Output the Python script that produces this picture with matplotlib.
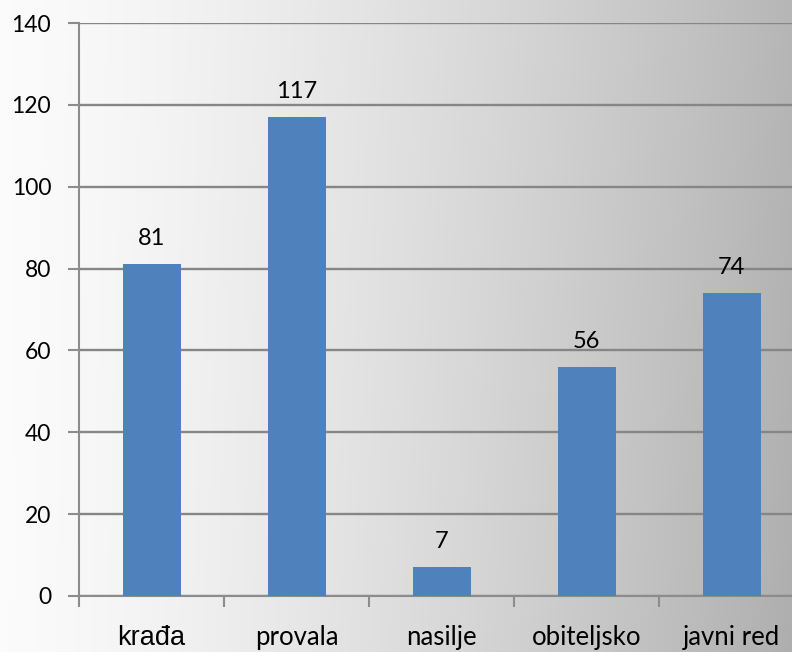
import numpy as np
import matplotlib
matplotlib.use("Agg")
import matplotlib.pyplot as plt

categories = ["krađa", "provala", "nasilje", "obiteljsko", "javni red"]
values = [81, 117, 7, 56, 74]
yticks = [0, 20, 40, 60, 80, 100, 120, 140]

W, H = 792, 652
fig = plt.figure(figsize=(W / 100, H / 100), dpi=100)

# background gradient
bg = fig.add_axes([0, 0, 1, 1], zorder=-10)
xs = np.linspace(0, 1, 400)
ys = np.linspace(0, 1, 300)
X, Y = np.meshgrid(xs, ys)
val = 0.985 - 0.27 * X ** 1.4 - 0.03 * Y * X
img = np.dstack([val, val, val])
bg.imshow(img, aspect="auto", extent=[0, 1, 0, 1], origin="upper")
bg.set_axis_off()

left = 79 / W
right = 804 / W
bottom = 1 - 596 / H
top = 1 - 23 / H
ax = fig.add_axes([left, bottom, right - left, top - bottom])
ax.patch.set_alpha(0)

x = np.arange(len(categories))
ax.bar(x, values, width=0.4, color="#4F81BD", zorder=3)
ax.set_xlim(-0.5, len(categories) - 0.5)
ax.set_ylim(0, 140)
ax.set_yticks(yticks)
ax.set_yticklabels([str(t) for t in yticks], fontsize=16.5, family="Lato")
ax.yaxis.grid(True, color="#868686", linewidth=1.7, zorder=0)
ax.set_axisbelow(True)

for s in ["top", "right"]:
    ax.spines[s].set_visible(False)
for s in ["left", "bottom"]:
    ax.spines[s].set_color("#8c8c8c")
    ax.spines[s].set_linewidth(1.5)
ax.tick_params(axis="y", length=8, width=1.5, color="#8c8c8c", pad=12)

ax.set_xticks(np.arange(len(categories)) - 0.5, minor=False)
ax.set_xticklabels([])
ax.tick_params(axis="x", length=8, width=1.5, color="#8c8c8c")
ax.set_xticks(x, minor=True)
ax.set_xticklabels(categories, minor=True)
ax.tick_params(axis="x", which="minor", length=0, pad=21)
for i, lbl in enumerate(ax.get_xticklabels(minor=True)):
    if i == 0:
        lbl.set_family("Liberation Sans")
        lbl.set_fontsize(19.5)
    else:
        lbl.set_family("Lato")
        lbl.set_fontsize(18.5)

for xi, v in zip(x, values):
    ax.annotate(str(v), (xi, v), xytext=(0, 11), textcoords="offset points",
                ha="center", va="bottom", fontsize=17, family="Lato")

fig.savefig("out.png", dpi=100)
